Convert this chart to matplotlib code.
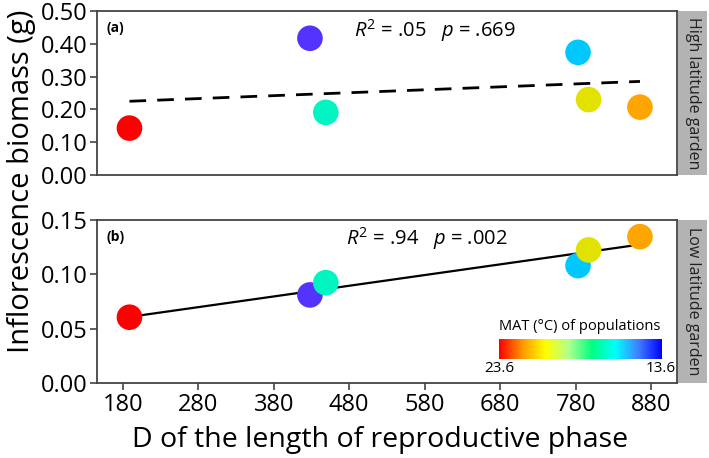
import numpy as np
import matplotlib.pyplot as plt
from matplotlib.colors import LinearSegmentedColormap

plt.rcParams['font.family'] = ['Open Sans', 'DejaVu Sans']
plt.rcParams['mathtext.fontset'] = 'custom'
plt.rcParams['mathtext.rm'] = 'Open Sans'
plt.rcParams['mathtext.it'] = 'Open Sans:italic'

# durasi fase reproduktif (D) tiap populasi
d_length = [189, 428, 449, 783, 797, 865]
# biomassa bunga di kebun lintang tinggi dan rendah
biomass_high = [0.143, 0.417, 0.191, 0.374, 0.230, 0.207]
biomass_low = [0.0605, 0.081, 0.0923, 0.108, 0.1224, 0.1346]
pop_colors = ['#ff0000', '#5533ff', '#00f5c0', '#00c8ff', '#e2e200', '#ffa500']
x_ticks = [180, 280, 380, 480, 580, 680, 780, 880]
high_ticks = [0.0, 0.1, 0.2, 0.3, 0.4, 0.5]
low_ticks = [0.0, 0.05, 0.10, 0.15]
strip_labels = ['High latitude garden', 'Low latitude garden']
stat_texts = ['$\\mathit{R}^2$ = .05   $\\mathit{p}$ = .669',
              '$\\mathit{R}^2$ = .94   $\\mathit{p}$ = .002']
mat_range = ['23.6', '13.6']

fig = plt.figure(figsize=(7.09, 4.58), dpi=100)
ax1 = fig.add_axes([0.1368, 0.6179, 0.818, 0.358])
ax2 = fig.add_axes([0.1368, 0.1638, 0.818, 0.356])

spine_col = '#444444'
for ax, y, ticks, lab, stat, sx, ls in [
        (ax1, biomass_high, high_ticks, '(a)', stat_texts[0], 0.583, (0, (6, 4))),
        (ax2, biomass_low, low_ticks, '(b)', stat_texts[1], 0.568, '-')]:
    # garis regresi
    k, b = np.polyfit(d_length, y, 1)
    xs = np.array([min(d_length), max(d_length)])
    ax.plot(xs, k * xs + b, color='black', linestyle=ls, linewidth=1.6 if ls == '-' else 2, zorder=2)
    ax.scatter(d_length, y, s=340, c=pop_colors, edgecolors='none', zorder=3)
    ax.set_xlim(146, 914)
    ax.set_ylim(ticks[0], ticks[-1])
    ax.set_yticks(ticks)
    ax.set_yticklabels(['%.2f' % t for t in ticks])
    ax.tick_params(labelsize=17, length=5, width=1.2, color=spine_col, pad=2)
    for s in ax.spines.values():
        s.set_color(spine_col)
        s.set_linewidth(1.3)
    ax.text(0.017, 0.87, lab, transform=ax.transAxes, fontsize=10, fontweight='bold')
    ax.text(sx, 0.884, stat, transform=ax.transAxes, fontsize=14.5, ha='center', va='center')

ax1.set_xticks([])
ax2.set_xticks(x_ticks)

# label strip di kanan
for ax, lab in zip([ax1, ax2], strip_labels):
    pos = ax.get_position()
    sax = fig.add_axes([0.9563, pos.y0, 0.041, pos.height])
    sax.set_facecolor('#b3b3b3')
    sax.set_xticks([])
    sax.set_yticks([])
    for s in sax.spines.values():
        s.set_visible(False)
    sax.text(0.5, 0.5, lab, rotation=-90, ha='center', va='center', fontsize=11.5, color='#222222')

fig.text(0.031, 0.605, 'Inflorescence biomass (g)', rotation=90, ha='center', va='center', fontsize=21)
fig.text(0.536, 0.039, 'D of the length of reproductive phase', ha='center', va='center', fontsize=20.5)

# colorbar MAT
cmap = LinearSegmentedColormap.from_list('mat', ['#ff0000', '#ff9900', '#ffff00', '#b0ff90',
                                                 '#00ff80', '#00ffff', '#4080ff', '#0000ff'])
cax = fig.add_axes([0.704, 0.216, 0.2285, 0.0437])
cax.imshow(np.linspace(0, 1, 256)[None, :], aspect='auto', cmap=cmap, extent=[0, 1, 0, 1])
cax.set_xticks([])
cax.set_yticks([])
for s in cax.spines.values():
    s.set_visible(False)
cax.text(0.5, 1.25, 'MAT (°C) of populations', transform=cax.transAxes, ha='center', va='bottom', fontsize=10.5)
cax.text(0.0, -0.12, mat_range[0], transform=cax.transAxes, ha='center', va='top', fontsize=11)
cax.text(1.0, -0.12, mat_range[1], transform=cax.transAxes, ha='center', va='top', fontsize=11)

fig.savefig('out.png', dpi=100)
